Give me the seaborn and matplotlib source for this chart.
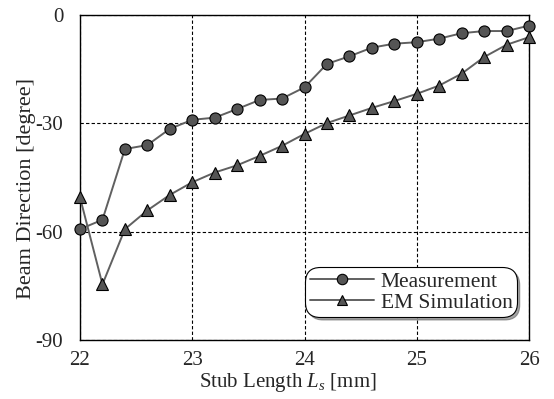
import numpy as np
import pandas as pd
import matplotlib
matplotlib.use("Agg")
import matplotlib.pyplot as plt
import seaborn as sns
from matplotlib.lines import Line2D

stub_length = [22.0, 22.2, 22.4, 22.6, 22.8, 23.0, 23.2, 23.4, 23.6, 23.8, 24.0,
               24.2, 24.4, 24.6, 24.8, 25.0, 25.2, 25.4, 25.6, 25.8, 26.0]
measurement = [-59.3, -56.7, -37.1, -36.0, -31.5, -29.0, -28.4, -26.0, -23.5, -23.1, -20.0,
               -13.5, -11.4, -9.0, -7.9, -7.5, -6.5, -5.0, -4.4, -4.4, -2.9]
em_simulation = [-50.5, -74.6, -59.3, -54.1, -49.8, -46.3, -43.6, -41.6, -39.0, -36.2, -32.9,
                 -29.9, -27.8, -25.7, -23.8, -21.8, -19.5, -16.2, -11.6, -8.2, -6.1]
series_names = ["Measurement", "EM Simulation"]
x_ticks = [22, 23, 24, 25, 26]
y_ticks = [0, -30, -60, -90]

sns.set_style("white")
plt.rcParams["font.family"] = ["Liberation Serif", "DejaVu Serif"]
plt.rcParams["mathtext.fontset"] = "custom"
plt.rcParams["mathtext.rm"] = "Liberation Serif"
plt.rcParams["mathtext.it"] = "Liberation Serif:italic"
plt.rcParams["axes.unicode_minus"] = False

df = pd.DataFrame({
    "x": stub_length * 2,
    "y": measurement + em_simulation,
    "series": [series_names[0]] * len(stub_length) + [series_names[1]] * len(stub_length),
})

fig = plt.figure(figsize=(5.54, 3.99), dpi=100)
ax = fig.add_axes([0.1444, 0.148, 0.8106, 0.814])

line_col = "#606060"
face_col = "#555555"
sns.lineplot(data=df, x="x", y="y", hue="series", style="series",
             hue_order=series_names, style_order=series_names,
             palette=[line_col, line_col],
             markers={"Measurement": "o", "EM Simulation": "^"},
             dashes=False, markersize=8, markeredgecolor="black",
             markeredgewidth=0.8, linewidth=1.4, ax=ax, legend=False, zorder=3)

for ln in ax.get_lines():
    ln.set_markerfacecolor(face_col)
    ln.set_clip_on(False)

ax.set_xlim(22, 26)
ax.set_ylim(-90, 0)
ax.set_xticks(x_ticks)
ax.set_yticks(y_ticks)
ax.set_xticklabels([str(t) for t in x_ticks])
ax.set_yticklabels([str(t) for t in y_ticks])
ax.tick_params(axis="both", length=0, labelsize=15)
ax.tick_params(axis="x", pad=8)
ax.tick_params(axis="y", pad=12)
ax.grid(True, color="black", linestyle=(0, (3, 2)), linewidth=0.8)
ax.set_axisbelow(True)
for sp in ax.spines.values():
    sp.set_color("black")
    sp.set_linewidth(1.0)
    sp.set_visible(True)

ax.set_xlabel("Stub Length $L_s$ [mm]", fontsize=15)
ax.set_ylabel("Beam Direction [degree]", fontsize=16)
ax.xaxis.set_label_coords(0.462, -0.095)
ax.yaxis.set_label_coords(-0.099, 0.465)

handles = [
    Line2D([], [], color=line_col, linewidth=1.4, marker="o", markersize=7.5,
           markerfacecolor=face_col, markeredgecolor="black", markeredgewidth=0.8),
    Line2D([], [], color=line_col, linewidth=1.4, marker="^", markersize=7.5,
           markerfacecolor=face_col, markeredgecolor="black", markeredgewidth=0.8),
]
leg = ax.legend(handles, series_names, loc="lower right", bbox_to_anchor=(0.973, 0.07),
                fontsize=15.5, frameon=True, fancybox=True, shadow=True,
                handlelength=3.0, handletextpad=0.3, labelspacing=0.05,
                borderpad=0.2, borderaxespad=0.0, framealpha=1)
leg.get_frame().set_edgecolor("black")
leg.get_frame().set_linewidth(0.8)
leg.get_frame().set_boxstyle("round,pad=0,rounding_size=0.7")

fig.savefig("out.png", dpi=100)
